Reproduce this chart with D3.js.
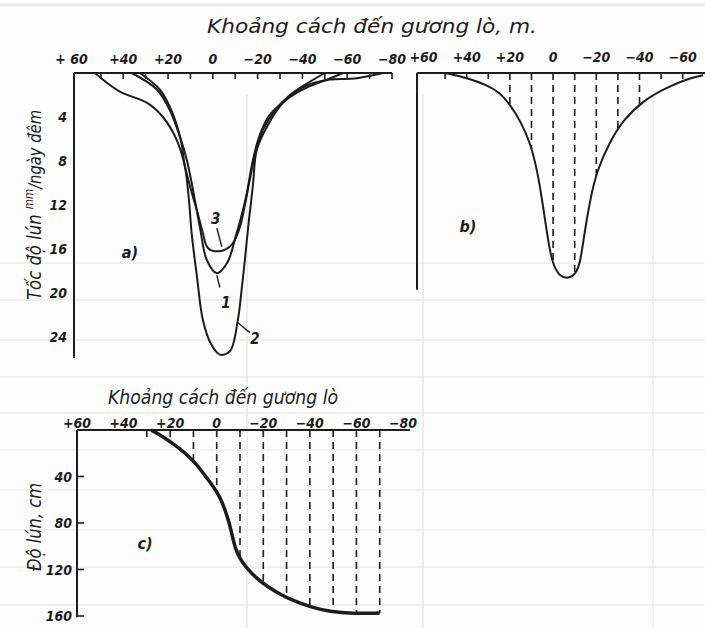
<!DOCTYPE html>
<html><head><meta charset="utf-8">
<script src="https://cdn.jsdelivr.net/npm/d3@7"></script>
<style>body{margin:0;background:#fdfdfd}svg{display:block}</style>
</head><body><svg id="chart" width="705" height="628"></svg>
<script>
// ---------- data ----------
const xTicksA = [60,40,20,0,-20,-40,-60,-80];
const xTickLabelsA = ["+ 60","+40","+20","0","−20","−40","−60","−80"];
const yTicksA = [4,8,12,16,20,24];
const xTicksB = [60,40,20,0,-20,-40,-60];
const xTickLabelsB = ["+60","+40","+20","0","−20","−40","−60"];
const xTicksC = [60,40,20,0,-20,-40,-60,-80];
const xTickLabelsC = ["+60","+40","+20","0","−20","−40","−60","−80"];
const yTicksC = [40,80,120,160];

// panel a: settlement rate (mm/day-night) vs distance to face (m)
const curveA1 = [[36.2,0],[25,1.5],[19.2,3.4],[14.7,5.8],[11.6,7.9],[8.9,10.6],[5.8,14],[2.7,17],[-1.8,18.2],[-6.3,17.3],[-10.7,14.5],[-13.4,12.5],[-15.2,10.9],[-17.9,7.9],[-21,5.6],[-25.4,3.8],[-34.4,2.2],[-43.3,1.2],[-52.2,0.5],[-58,0]];
const curveA2 = [[52.7,0],[41.5,1.7],[29.5,2.7],[22.3,4.0],[16.1,6.1],[12.5,8.5],[10.7,11.5],[9.4,14.7],[7.1,18.5],[4.5,22.4],[0.9,24.6],[-3.1,25.6],[-7.6,25.3],[-11.2,22.4],[-12.9,19.6],[-14.3,17.0],[-16.1,13.4],[-17.9,10.2],[-19.6,7.0],[-24.1,4.9],[-31.3,2.7],[-40.2,1.3],[-52.2,0.6],[-63.4,0.5],[-75.9,0]];
const curveA3 = [[32.6,0],[23.7,1.5],[18.3,3.5],[14.3,6.1],[12.5,8.4],[9.8,10.6],[7.1,12.5],[4.5,14.5],[2.2,15.9],[-3.1,16.2],[-8.5,15.6],[-12.1,14],[-14.3,12],[-16.5,9.7],[-18.8,7.5],[-22.3,5.2],[-27.7,3.4],[-35.7,1.8],[-43.3,0.8],[-50,0]];
const curveLabelsA = [
  {t:"3", d:-1.3, v:13.2, l:[[-1.8,14.1],[-4.0,15.8]]},
  {t:"1", d:-5.8, v:20.8, l:[[-3.1,19.5],[-1.8,18.4]]},
  {t:"2", d:-18.8, v:24.1, l:[[-11.2,22.7],[-16.5,23.6]]}
];
// panel b: average rate curve
const curveB = [[50,0],[39.8,0.45],[30.6,1.1],[24.5,1.8],[19.9,2.9],[15.3,4.3],[10.6,6.3],[7.4,8.8],[5.1,11.5],[2.8,14.6],[0.5,17.3],[-3,18.5],[-7,18.7],[-10.5,18.3],[-12.6,17.2],[-14.2,15.0],[-17.1,11.5],[-20.4,8.8],[-26.4,6.2],[-32.4,4.3],[-41.7,2.5],[-52.8,1.3],[-63.4,0.45],[-69.4,0.2]];
const dashB = [20,10,0,-10,-20,-30,-40];
const smallTicksB = [50,40,30,-50,-60];
// panel c: settlement (cm)
const curveC = [[28.2,0],[24,4.5],[20,10],[15.5,16.5],[11.5,23.5],[8,31],[5,39.5],[1.6,48],[-1.2,57],[-3.5,68],[-5.4,80],[-6.8,92],[-8,102],[-10,111],[-13,119],[-17.3,128],[-22,135],[-27,141],[-33,147],[-40,152],[-48.7,156.5],[-58.5,158],[-70,157.5]];
const dashC = [10,0,-10,-20,-30,-40,-50,-60,-70];
const smallTicksC = [30,20];

// ---------- layout ----------
const svg = d3.select("#chart");
const ink = "#1c1c1c";
const FONT = "'DejaVu Sans Condensed','DejaVu Sans',sans-serif";

// faint bleed-through table lines of the scan
const bg = svg.append("g").attr("stroke","#e4e4e4").attr("stroke-width",1.2);
[263,300,340,377,413,450,490,530,567,605].forEach(y=>bg.append("line").attr("x1",0).attr("x2",705).attr("y1",y).attr("y2",y));
[247,423,653].forEach(x=>bg.append("line").attr("x1",x).attr("x2",x).attr("y1",95).attr("y2",628));
svg.append("line").attr("x1",0).attr("x2",705).attr("y1",5).attr("y2",5).attr("stroke","#e8e8e8").attr("stroke-width",3);

const xA = d3.scaleLinear().domain([62,-80]).range([74,392]);
const yA = d3.scaleLinear().domain([0,24]).range([73,337]);
const xB = d3.scaleLinear().domain([63,-70]).range([417,704.3]);
const yB = d3.scaleLinear().domain([0,20]).range([73,293]);
const xC = d3.scaleLinear().domain([60,-80]).range([77,403]);
const yC = d3.scaleLinear().domain([0,160]).range([430,616]);

const line = (xs,ys,c)=>d3.line().x(d=>xs(d[0])).y(d=>ys(d[1])).curve(c||d3.curveCatmullRom.alpha(0.5));

function txt(g,x,y,s,size,opts={}){
  const t=g.append("text").attr("x",x).attr("y",y).text(s)
    .attr("font-family",FONT).attr("font-style","italic").attr("font-size",size)
    .attr("fill",ink).attr("text-anchor",opts.anchor||"middle");
  if(opts.weight) t.attr("font-weight",opts.weight);
  if(opts.len) t.attr("textLength",opts.len).attr("lengthAdjust","spacingAndGlyphs");
  return t;
}
function yAtX(node,x){
  const L=node.getTotalLength(); let prev=node.getPointAtLength(0);
  for(let i=1;i<=800;i++){const p=node.getPointAtLength(L*i/800);
    if((prev.x-x)*(p.x-x)<=0){const f=(p.x===prev.x)?0:(x-prev.x)/(p.x-prev.x);return prev.y+f*(p.y-prev.y);} prev=p;}
  return prev.y;
}

// ----- titles -----
txt(svg,207,33,"Khoảng cách đến gương lò, m.",19,{anchor:"start",len:330});

// ----- panel a -----
const ga = svg.append("g");
ga.append("line").attr("x1",xA(62)).attr("x2",xA(-80)).attr("y1",yA(0)).attr("y2",yA(0)).attr("stroke",ink).attr("stroke-width",2);
ga.append("line").attr("x1",xA(62)).attr("x2",xA(62)).attr("y1",yA(0)).attr("y2",yA(25.9)).attr("stroke",ink).attr("stroke-width",2);
d3.range(50,-81,-10).forEach(d=>ga.append("line").attr("x1",xA(d)).attr("x2",xA(d)).attr("y1",yA(0)).attr("y2",yA(0)+6).attr("stroke",ink).attr("stroke-width",1.6));
xTicksA.forEach((d,i)=>txt(ga,xA(d)-(i===0?7:0),64,xTickLabelsA[i],14,{weight:"bold"}));
yTicksA.forEach(v=>txt(ga,67,yA(v)+5,String(v),14,{anchor:"end",weight:"bold"}));
[curveA1,curveA2,curveA3].forEach(c=>ga.append("path").attr("d",line(xA,yA)(c)).attr("fill","none").attr("stroke",ink).attr("stroke-width",2));
curveLabelsA.forEach(a=>{
  ga.append("line").attr("x1",xA(a.l[0][0])).attr("y1",yA(a.l[0][1])).attr("x2",xA(a.l[1][0])).attr("y2",yA(a.l[1][1])).attr("stroke",ink).attr("stroke-width",1.4);
  txt(ga,xA(a.d),yA(a.v)+6,a.t,15,{weight:"bold"});
});
txt(ga,130,258,"a)",16,{weight:"bold"});
const ta = ga.append("text").attr("transform","translate(41,300) rotate(-90)")
  .attr("font-family",FONT).attr("font-style","italic").attr("fill",ink)
  .attr("textLength",190).attr("lengthAdjust","spacingAndGlyphs");
ta.append("tspan").attr("font-size",19).text("Tốc độ lún ");
ta.append("tspan").attr("font-size",12).attr("dy",-8).text("mm");
ta.append("tspan").attr("font-size",17).attr("dy",8).text("/ngày đêm");

// ----- panel b -----
const gb = svg.append("g");
gb.append("line").attr("x1",xB(63)).attr("x2",705).attr("y1",yB(0)).attr("y2",yB(0)).attr("stroke",ink).attr("stroke-width",2);
gb.append("line").attr("x1",xB(63)).attr("x2",xB(63)).attr("y1",yB(0)).attr("y2",yB(19.7)).attr("stroke",ink).attr("stroke-width",2);
xTicksB.forEach((d,i)=>txt(gb,xB(d),62,xTickLabelsB[i],14,{weight:"bold"}));
const pb = gb.append("path").attr("d",line(xB,yB,d3.curveBasis)(curveB)).attr("fill","none").attr("stroke",ink).attr("stroke-width",2);
smallTicksB.forEach(d=>gb.append("line").attr("x1",xB(d)).attr("x2",xB(d)).attr("y1",yB(0)).attr("y2",yB(0)+6).attr("stroke",ink).attr("stroke-width",1.6));
dashB.forEach(d=>gb.append("line").attr("x1",xB(d)).attr("x2",xB(d)).attr("y1",yB(0)).attr("y2",yAtX(pb.node(),xB(d)))
  .attr("stroke",ink).attr("stroke-width",1.6).attr("stroke-dasharray","7,5"));
txt(gb,468,232,"b)",16,{weight:"bold"});

// ----- panel c -----
const gc = svg.append("g");
txt(gc,108,404,"Khoảng cách đến gương lò",19,{anchor:"start",len:230});
gc.append("line").attr("x1",xC(60)).attr("x2",xC(-83)).attr("y1",yC(0)).attr("y2",yC(0)).attr("stroke",ink).attr("stroke-width",2);
gc.append("line").attr("x1",xC(60)).attr("x2",xC(60)).attr("y1",yC(0)).attr("y2",yC(161)).attr("stroke",ink).attr("stroke-width",2);
xTicksC.forEach((d,i)=>txt(gc,xC(d),428,xTickLabelsC[i],14,{weight:"bold"}));
yTicksC.forEach(v=>{
  gc.append("line").attr("x1",xC(60)).attr("x2",xC(60)+7).attr("y1",yC(v)).attr("y2",yC(v)).attr("stroke",ink).attr("stroke-width",1.6);
  txt(gc,72,yC(v)+5,String(v),14,{anchor:"end",weight:"bold"});
});
const pc = gc.append("path").attr("d",line(xC,yC,d3.curveBasis)(curveC)).attr("fill","none").attr("stroke",ink).attr("stroke-width",3.5);
smallTicksC.forEach(d=>gc.append("line").attr("x1",xC(d)).attr("x2",xC(d)).attr("y1",yC(0)).attr("y2",yC(0)+7).attr("stroke",ink).attr("stroke-width",1.6));
dashC.forEach(d=>gc.append("line").attr("x1",xC(d)).attr("x2",xC(d)).attr("y1",yC(0)).attr("y2",yAtX(pc.node(),xC(d)))
  .attr("stroke",ink).attr("stroke-width",1.6).attr("stroke-dasharray","7,5"));
txt(gc,145,549,"c)",16,{weight:"bold"});
txt(gc,0,0,"Độ lún, cm",19,{len:88}).attr("transform","translate(41,527) rotate(-90)");
</script></body></html>
